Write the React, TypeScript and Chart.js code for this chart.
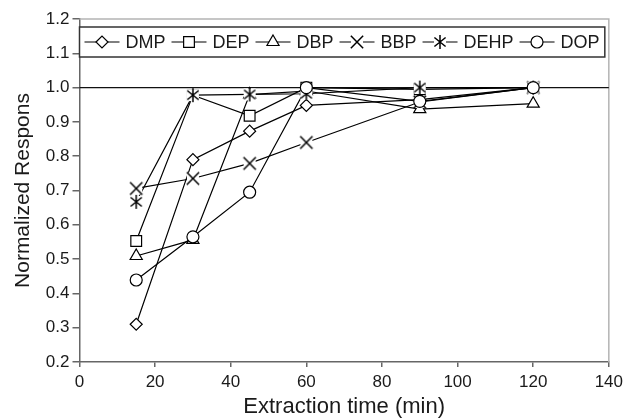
import React, { useEffect, useRef } from 'react';
import { Chart, registerables } from 'chart.js';
import { drawPoint } from 'chart.js/helpers';

Chart.register(...registerables);

// ---- data ----
const times = [15, 30, 45, 60, 90, 120];
const seriesNames = ['DMP', 'DEP', 'DBP', 'BBP', 'DEHP', 'DOP'];
const dmp = [0.31, 0.79, 0.873, 0.948, 0.965, 1.0];
const dep = [0.553, 0.978, 0.918, 1.0, 0.995, 1.0];
const dbp = [0.509, 0.556, 0.98, 0.99, 0.937, 0.953];
const bbp = [0.706, 0.735, 0.779, 0.84, 0.958, 1.0];
const dehp = [0.667, 0.978, 0.98, 0.982, 1.0, 1.0];
const dop = [0.439, 0.565, 0.695, 1.0, 0.96, 1.0];
const seriesValues = [dmp, dep, dbp, bbp, dehp, dop];
const xMin = 0, xMax = 140, xStep = 20;
const yMin = 0.2, yMax = 1.2, yStep = 0.1;
const referenceValue = 1.0;
const xTitle = 'Extraction time (min)';
const yTitle = 'Normalized Respons';

const FONT = "'Liberation Sans', Arial, sans-serif";

function makeMarker(r: number, kind: 'x' | 'star'): HTMLCanvasElement {
  const s = 2 * r + 2;
  const c = document.createElement('canvas');
  c.width = s;
  c.height = s;
  const ctx = c.getContext('2d')!;
  const cx = s / 2, cy = s / 2;
  ctx.fillStyle = '#fff';
  ctx.fillRect(cx - r + 1, cy - r + 1, 2 * r - 2, 2 * r - 2);
  ctx.strokeStyle = '#000';
  ctx.lineWidth = 1.5;
  ctx.beginPath();
  if (kind === 'x') {
    const d = r * 0.88;
    ctx.moveTo(cx - d, cy - d);
    ctx.lineTo(cx + d, cy + d);
    ctx.moveTo(cx + d, cy - d);
    ctx.lineTo(cx - d, cy + d);
  } else {
    ctx.moveTo(cx, cy - r);
    ctx.lineTo(cx, cy + r);
    const dx = r * 0.8, dy = r * 0.64;
    ctx.moveTo(cx - dx, cy - dy);
    ctx.lineTo(cx + dx, cy + dy);
    ctx.moveTo(cx + dx, cy - dy);
    ctx.lineTo(cx - dx, cy + dy);
  }
  ctx.stroke();
  return c;
}

export default function App() {
  const ref = useRef<HTMLCanvasElement | null>(null);

  useEffect(() => {
    if (!ref.current) return;
    const styles: any[] = ['rectRot', 'rect', 'triangle', makeMarker(7, 'x'), makeMarker(7, 'star'), 'circle'];
    const radii = [6, 7.6, 7, 7, 7, 6];
    const n = seriesNames.length;

    const lineSets = seriesNames.map((name, i) => ({
      label: name + ' line',
      data: times.map((t, j) => ({ x: t, y: seriesValues[i][j] })),
      borderColor: '#000',
      borderWidth: 1.2,
      pointRadius: 0,
      tension: 0,
      fill: false,
      order: 20 + n - i,
    }));
    const pointSets = seriesNames.map((name, i) => ({
      label: name,
      data: times.map((t, j) => ({ x: t, y: seriesValues[i][j] })),
      showLine: false,
      borderColor: '#000',
      backgroundColor: '#fff',
      pointBackgroundColor: '#fff',
      pointBorderColor: '#000',
      pointBorderWidth: 1.2,
      pointStyle: styles[i],
      pointRadius: radii[i],
      order: n - i,
    }));

    const framePlugin = {
      id: 'frame',
      beforeDatasetsDraw(chart: any) {
        const { ctx, chartArea } = chart;
        const ys = chart.scales.y;
        ctx.save();
        ctx.strokeStyle = '#b4b4b4';
        ctx.lineWidth = 1.5;
        ctx.beginPath();
        ctx.moveTo(chartArea.left, chartArea.top);
        ctx.lineTo(chartArea.right, chartArea.top);
        ctx.lineTo(chartArea.right, chartArea.bottom);
        ctx.stroke();
        const yr = ys.getPixelForValue(referenceValue);
        ctx.strokeStyle = '#111';
        ctx.lineWidth = 1.3;
        ctx.beginPath();
        ctx.moveTo(chartArea.left, yr);
        ctx.lineTo(chartArea.right, yr);
        ctx.stroke();
        ctx.restore();
      },
    };

    const legendPlugin = {
      id: 'boxLegend',
      afterDraw(chart: any) {
        const { ctx, chartArea } = chart;
        const top = chartArea.top + 8;
        const bottom = chartArea.top + 38;
        const left = chartArea.left;
        const right = chartArea.right - 4;
        ctx.save();
        ctx.fillStyle = '#fff';
        ctx.fillRect(left, top, right - left, bottom - top);
        ctx.strokeStyle = '#333';
        ctx.lineWidth = 1.5;
        ctx.strokeRect(left, top, right - left, bottom - top);
        const cy = Math.round((top + bottom) / 2);
        ctx.font = `18px ${FONT}`;
        ctx.textBaseline = 'middle';
        ctx.textAlign = 'left';
        let x = left + 5;
        seriesNames.forEach((name, i) => {
          ctx.strokeStyle = '#000';
          ctx.lineWidth = 1.2;
          ctx.beginPath();
          ctx.moveTo(x, cy);
          ctx.lineTo(x + 35, cy);
          ctx.stroke();
          ctx.fillStyle = '#fff';
          ctx.strokeStyle = '#000';
          ctx.lineWidth = 1.2;
          drawPoint(ctx, { pointStyle: styles[i], radius: radii[i], rotation: 0, borderWidth: 1.2 } as any, Math.round(x + 17.5), cy);
          ctx.fillStyle = '#1a1a1a';
          ctx.fillText(name, x + 41, cy + 1);
          x += 41 + ctx.measureText(name).width + 6;
        });
        ctx.restore();
      },
    };

    const chart = new Chart(ref.current, {
      type: 'line',
      data: { datasets: [...lineSets, ...pointSets] as any },
      plugins: [framePlugin, legendPlugin],
      options: {
        animation: false,
        responsive: true,
        maintainAspectRatio: false,
        layout: { padding: { top: 19, right: 17, left: 0, bottom: 0 } },
        plugins: { legend: { display: false }, tooltip: { enabled: false } },
        scales: {
          x: {
            type: 'linear',
            min: xMin,
            max: xMax,
            ticks: { stepSize: xStep, font: { family: FONT, size: 17 }, color: '#1a1a1a', padding: 5 },
            grid: { drawOnChartArea: false, drawTicks: true, tickLength: 5, color: '#666', lineWidth: 1.5 },
            border: { color: '#666', width: 1.5 },
            title: { display: true, text: xTitle, font: { family: FONT, size: 22, lineHeight: 1 }, color: '#1a1a1a', padding: { top: 0, bottom: 0 } },
            afterFit(scale: any) { scale.height = 56; },
          },
          y: {
            type: 'linear',
            min: yMin,
            max: yMax,
            ticks: {
              stepSize: yStep,
              font: { family: FONT, size: 17 },
              color: '#1a1a1a',
              padding: 3,
              callback: (v: any) => Number(v).toFixed(1),
            },
            grid: { drawOnChartArea: false, drawTicks: true, tickLength: 7, color: '#666', lineWidth: 1.5 },
            border: { color: '#666', width: 1.5 },
            title: { display: true, text: yTitle, font: { family: FONT, size: 21, lineHeight: 1 }, color: '#1a1a1a', padding: { top: 12.5, bottom: 0 } },
            afterFit(scale: any) { scale.width = 79.5; },
          },
        },
      },
    });
    return () => chart.destroy();
  }, []);

  return (
    <div style={{ position: 'fixed', left: 0, top: 0, width: 628, height: 418, background: '#fff' }}>
      <canvas ref={ref} />
    </div>
  );
}
